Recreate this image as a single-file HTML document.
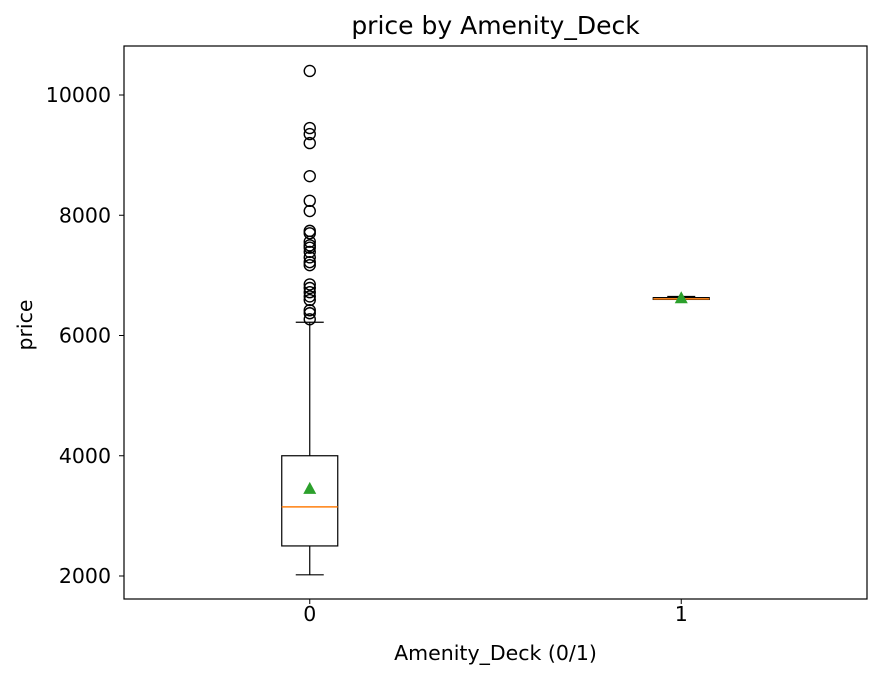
<!DOCTYPE html>
<html><head><meta charset="utf-8"><style>
body{margin:0;background:#fff;font-family:"Liberation Sans","DejaVu Sans",sans-serif;}
</style></head><body>
<svg id="chart" width="883" height="679" xmlns="http://www.w3.org/2000/svg" font-family="DejaVu Sans, Liberation Sans, sans-serif">
<rect width="883" height="679" fill="#fff"/>
<text x="495.5" y="34" text-anchor="middle" font-size="25">price by Amenity_Deck</text>
<text x="495.5" y="660" text-anchor="middle" font-size="20.5">Amenity_Deck (0/1)</text>
<text transform="translate(32,325) rotate(-90)" text-anchor="middle" font-size="20.5">price</text>
<g id="plot"></g>
<rect x="124" y="46" width="743" height="553" fill="none" stroke="#000" stroke-width="1.2"/>
</svg>
<script>
const categories=["0","1"];
const q1=[2500,6600];
const medians=[3150,6610];
const q3=[4000,6630];
const whiskLow=[2020,6600];
const whiskHigh=[6220,6650];
const means=[3450,6620];
const outliers0=[10400,9450,9350,9200,8650,8240,8070,7740,7700,7560,7500,7460,7390,7300,7220,7170,6850,6790,6720,6650,6590,6420,6370,6270];
const outliers1=[];
const yTicks=[2000,4000,6000,8000,10000];

const NS="http://www.w3.org/2000/svg";
const g=document.getElementById('plot');
const X=i=>124+(i+0.5)*371.5;
const Y=v=>576-(v-2000)*0.060125;
function mk(t,a){const e=document.createElementNS(NS,t);for(const k in a)e.setAttribute(k,a[k]);g.appendChild(e);return e;}
yTicks.forEach(v=>{
 const l=mk('line',{x1:124,x2:119,y1:Y(v),y2:Y(v),stroke:'#000','stroke-width':1});
 
 
 const t=mk('text',{x:111,y:Y(v)+7,'text-anchor':'end','font-size':20.5});t.textContent=v;
 
 
});
categories.forEach((c,i)=>{
 const x=X(i),hw=28,cw=14;
 const l=mk('line',{x1:x,x2:x,y1:599,y2:604,stroke:'#000'});
 
 
 const t=mk('text',{x:x,y:621,'text-anchor':'middle','font-size':20.5});t.textContent=c;
 
 
 const w1=mk('line',{x1:x,x2:x,y1:Y(q1[i]),y2:Y(whiskLow[i]),stroke:'#000','stroke-width':1.2});
 
 
 const w2=mk('line',{x1:x,x2:x,y1:Y(q3[i]),y2:Y(whiskHigh[i]),stroke:'#000','stroke-width':1.2});
 
 
 [whiskLow[i],whiskHigh[i]].forEach(v=>{const cap=mk('line',{x1:x-cw,x2:x+cw,y1:Y(v),y2:Y(v),stroke:'#000','stroke-width':1.2});
 
 });
 const b=mk('rect',{x:x-hw,y:Y(q3[i]),width:2*hw,height:Math.max(Y(q1[i])-Y(q3[i]),0.5),fill:'none',stroke:'#000','stroke-width':1.2});
 
 
 const m=mk('line',{x1:x-hw,x2:x+hw,y1:Y(medians[i]),y2:Y(medians[i]),stroke:'#ff7f0e','stroke-width':1.5});
 
 
 const my=Y(means[i]);
 const tri=mk('polygon',{points:`${x},${my-7} ${x-6.5},${my+5} ${x+6.5},${my+5}`,fill:'#2ca02c'});
 
 
 (i===0?outliers0:outliers1).forEach(v=>{
  const o=mk('circle',{cx:x,cy:Y(v),r:5.5,fill:'none',stroke:'#000','stroke-width':1.4});
  
  
 });
});
</script>
</body></html>
